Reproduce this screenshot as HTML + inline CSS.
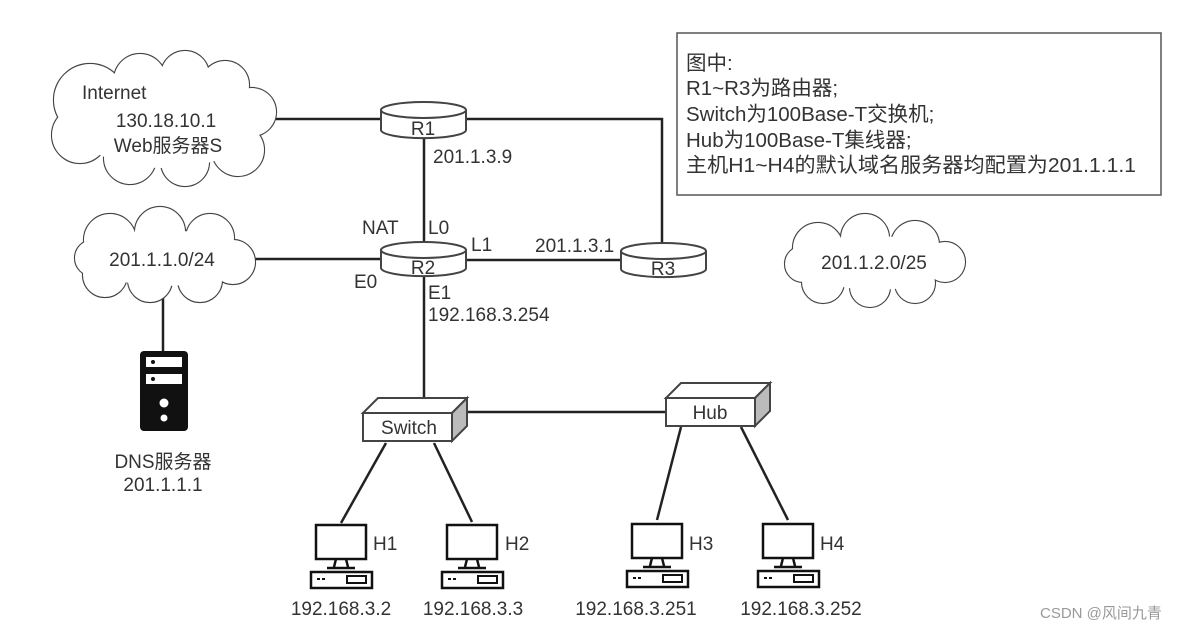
<!DOCTYPE html>
<html><head><meta charset="utf-8"><style>
html,body{margin:0;padding:0;background:#fff;}
svg{display:block;}
text{font-family:"Liberation Sans","Noto Sans CJK SC",sans-serif;fill:#333;}
</style></head><body>
<svg width="1196" height="632" viewBox="0 0 1196 632" xmlns="http://www.w3.org/2000/svg">
<defs>
<g id="pc">
  <rect x="0" y="0" width="50" height="34" fill="#fff" stroke="#111" stroke-width="2.5"/>
  <path d="M20 34 L18 42 M30 34 L32 42" stroke="#111" stroke-width="2.5"/>
  <line x1="11" y1="43" x2="39" y2="43" stroke="#111" stroke-width="2.5"/>
  <rect x="-5" y="47" width="61" height="16" fill="#fff" stroke="#111" stroke-width="2.5"/>
  <rect x="1" y="53" width="3" height="2" fill="#111"/><rect x="6" y="53" width="3" height="2" fill="#111"/>
  <rect x="31" y="51" width="19" height="7" fill="#fff" stroke="#111" stroke-width="2"/>
</g>
</defs>
<rect width="1196" height="632" fill="#fff"/>

<g stroke="#222" stroke-width="2.5" fill="none">
  <line x1="276" y1="119" x2="382" y2="119"/>
  <polyline points="466,119 662,119 662,250"/>
  <line x1="424" y1="137" x2="424" y2="250"/>
  <line x1="255" y1="259" x2="382" y2="259"/>
  <line x1="466" y1="260" x2="622" y2="260"/>
  <line x1="424" y1="275" x2="424" y2="399"/>
  <line x1="163" y1="296" x2="163" y2="352"/>
  <line x1="466" y1="412" x2="667" y2="412"/>
  <line x1="386" y1="443" x2="341" y2="523"/>
  <line x1="434" y1="443" x2="472" y2="522"/>
  <line x1="681" y1="427" x2="657" y2="520"/>
  <line x1="741" y1="427" x2="788" y2="520"/>
</g>

<g stroke="#444" stroke-width="2.2" fill="#fff">
  <g>
    <circle cx="90" cy="100" r="36"/><circle cx="140" cy="80" r="26"/><circle cx="185" cy="75" r="24"/><circle cx="225" cy="85" r="24"/><circle cx="252" cy="112" r="24"/>
    <circle cx="238" cy="150" r="26"/><circle cx="185" cy="162" r="24"/><circle cx="130" cy="158" r="26"/><circle cx="80" cy="135" r="28"/>
  </g>
  <g stroke="none">
    <circle cx="90" cy="100" r="36"/><circle cx="140" cy="80" r="26"/><circle cx="185" cy="75" r="24"/><circle cx="225" cy="85" r="24"/><circle cx="252" cy="112" r="24"/>
    <circle cx="238" cy="150" r="26"/><circle cx="185" cy="162" r="24"/><circle cx="130" cy="158" r="26"/><circle cx="80" cy="135" r="28"/>
    <ellipse cx="165" cy="120" rx="95" ry="48"/>
  </g>
  <g>
    <circle cx="110" cy="240" r="26"/><circle cx="160" cy="232" r="25"/><circle cx="210" cy="238" r="24"/><circle cx="233" cy="262" r="22"/>
    <circle cx="200" cy="280" r="22"/><circle cx="150" cy="280" r="22"/><circle cx="105" cy="275" r="22"/><circle cx="93" cy="258" r="18"/>
  </g>
  <g stroke="none">
    <circle cx="110" cy="240" r="26"/><circle cx="160" cy="232" r="25"/><circle cx="210" cy="238" r="24"/><circle cx="233" cy="262" r="22"/>
    <circle cx="200" cy="280" r="22"/><circle cx="150" cy="280" r="22"/><circle cx="105" cy="275" r="22"/><circle cx="93" cy="258" r="18"/>
    <ellipse cx="163" cy="258" rx="75" ry="28"/>
  </g>
  <g>
    <circle cx="818" cy="248" r="25"/><circle cx="865" cy="238" r="24"/><circle cx="915" cy="245" r="24"/><circle cx="945" cy="262" r="20"/>
    <circle cx="915" cy="283" r="20"/><circle cx="870" cy="287" r="20"/><circle cx="823" cy="282" r="21"/><circle cx="803" cy="264" r="18"/>
  </g>
  <g stroke="none">
    <circle cx="818" cy="248" r="25"/><circle cx="865" cy="238" r="24"/><circle cx="915" cy="245" r="24"/><circle cx="945" cy="262" r="20"/>
    <circle cx="915" cy="283" r="20"/><circle cx="870" cy="287" r="20"/><circle cx="823" cy="282" r="21"/><circle cx="803" cy="264" r="18"/>
    <ellipse cx="875" cy="263" rx="70" ry="27"/>
  </g>
</g>

<g stroke="#444" stroke-width="2" fill="#fff">
  <path d="M381 110 L381 130 A42 8 0 0 0 466 130 L466 110"/><ellipse cx="423.5" cy="110" rx="42.5" ry="8"/>
  <path d="M381 250 L381 268 A42 8 0 0 0 466 268 L466 250"/><ellipse cx="423.5" cy="250" rx="42.5" ry="8"/>
  <path d="M621 251 L621 269 A42 8 0 0 0 706 269 L706 251"/><ellipse cx="663.5" cy="251" rx="42.5" ry="8"/>
</g>

<g stroke="#444" stroke-width="2">
  <polygon points="363,413 378,398 467,398 452,413" fill="#fff"/>
  <polygon points="452,413 467,398 467,426 452,441" fill="#bbb"/>
  <rect x="363" y="413" width="89" height="28" fill="#fff"/>
  <polygon points="666,398 681,383 770,383 755,398" fill="#fff"/>
  <polygon points="755,398 770,383 770,411 755,426" fill="#bbb"/>
  <rect x="666" y="398" width="89" height="28" fill="#fff"/>
</g>

<rect x="140" y="351" width="48" height="80" rx="4" fill="#111"/>
<rect x="146" y="357" width="36" height="10" fill="#fff"/><rect x="146" y="374" width="36" height="10" fill="#fff"/>
<circle cx="153" cy="362" r="2" fill="#111"/><circle cx="153" cy="379" r="2" fill="#111"/>
<circle cx="164" cy="403" r="4.5" fill="#fff"/><circle cx="164" cy="418" r="3.5" fill="#fff"/>

<use href="#pc" x="316" y="525"/>
<use href="#pc" x="447" y="525"/>
<use href="#pc" x="632" y="524"/>
<use href="#pc" x="763" y="524"/>

<rect x="677" y="33" width="484" height="162" fill="none" stroke="#555" stroke-width="1.5"/>
<g font-size="20.5">
  <text x="686" y="70">图中:</text>
  <text x="686" y="95">R1~R3为路由器;</text>
  <text x="686" y="121">Switch为100Base-T交换机;</text>
  <text x="686" y="147">Hub为100Base-T集线器;</text>
  <text x="686" y="172" textLength="450" lengthAdjust="spacingAndGlyphs">主机H1~H4的默认域名服务器均配置为201.1.1.1</text>
</g>

<g font-size="19">
  <text x="82" y="99">Internet</text>
  <text x="166" y="127" text-anchor="middle">130.18.10.1</text>
  <text x="168" y="152" text-anchor="middle">Web服务器S</text>
  <text x="423" y="135" text-anchor="middle">R1</text>
  <text x="433" y="163">201.1.3.9</text>
  <text x="362" y="234">NAT</text>
  <text x="428" y="234">L0</text>
  <text x="471" y="251">L1</text>
  <text x="535" y="252">201.1.3.1</text>
  <text x="423" y="274" text-anchor="middle">R2</text>
  <text x="663" y="275" text-anchor="middle">R3</text>
  <text x="354" y="288">E0</text>
  <text x="428" y="299">E1</text>
  <text x="428" y="321">192.168.3.254</text>
  <text x="162" y="266" text-anchor="middle">201.1.1.0/24</text>
  <text x="874" y="269" text-anchor="middle">201.1.2.0/25</text>
  <text x="163" y="468" text-anchor="middle">DNS服务器</text>
  <text x="163" y="491" text-anchor="middle">201.1.1.1</text>
  <text x="409" y="434" text-anchor="middle">Switch</text>
  <text x="710" y="419" text-anchor="middle">Hub</text>
  <text x="373" y="550">H1</text>
  <text x="505" y="550">H2</text>
  <text x="689" y="550">H3</text>
  <text x="820" y="550">H4</text>
  <text x="341" y="615" text-anchor="middle">192.168.3.2</text>
  <text x="473" y="615" text-anchor="middle">192.168.3.3</text>
  <text x="636" y="615" text-anchor="middle">192.168.3.251</text>
  <text x="801" y="615" text-anchor="middle">192.168.3.252</text>
</g>
<text x="1040" y="618" font-size="15" style="fill:#999">CSDN @风间九青</text>
</svg>
</body></html>
